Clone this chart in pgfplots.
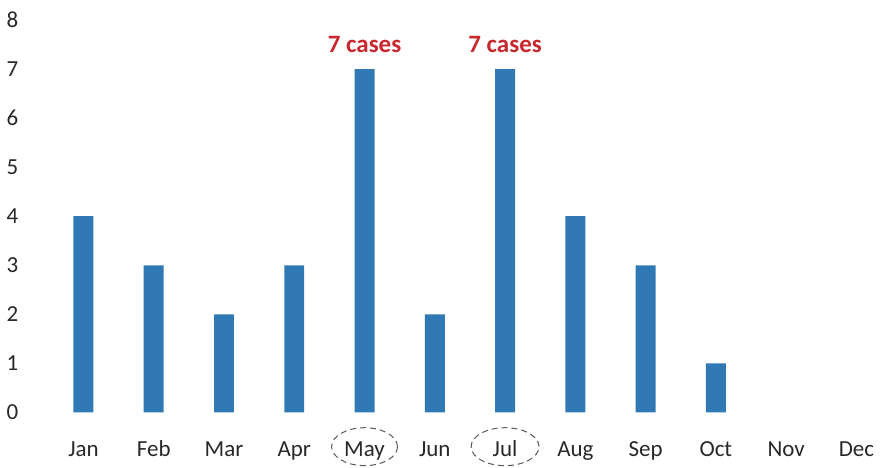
\documentclass[border=0pt]{standalone}
\usepackage{fontspec}
\setmainfont{Carlito}
\usepackage{pgfplots}
\pgfplotsset{compat=1.18}
\definecolor{barblue}{RGB}{48,121,180}
\definecolor{labred}{RGB}{200,40,45}
\definecolor{tickgray}{RGB}{40,40,40}
\begin{document}
\begin{tikzpicture}
\begin{axis}[
  scale only axis,
  width=417pt, height=206.5pt,
  xmin=-0.5, xmax=11.35,
  ymin=0, ymax=8.41,
  axis line style={draw=none},
  clip=false,
  ybar, bar width=10pt,
  xtick={0,...,11},
  xticklabels={Jan,Feb,Mar,Apr,May,Jun,Jul,Aug,Sep,Oct,Nov,Dec},
  ytick={0,...,8},
  /pgf/number format/assume math mode=true,
  tick style={draw=none},
  major tick length=0pt,
  ticklabel style={font=\fontsize{11.5}{13}\selectfont, text=tickgray},
  yticklabel style={xshift=-11.5pt},
  xticklabel style={yshift=-11pt, text height=1.6ex, text depth=0.45ex},
]
\addplot[fill=barblue, draw=none] coordinates {
  (0,4) (1,3) (2,2) (3,3) (4,7) (5,2) (6,7) (7,4) (8,3) (9,1)
};
\node[text=labred, font=\fontsize{12.5}{14}\selectfont\bfseries] at (axis cs:4,7.5) {7 cases};
\node[text=labred, font=\fontsize{12.5}{14}\selectfont\bfseries] at (axis cs:6,7.5) {7 cases};
\draw[densely dashed, gray!70!black, line width=0.5pt] (axis cs:4,-0.7) ellipse [x radius=16.5pt, y radius=9.5pt];
\draw[densely dashed, gray!70!black, line width=0.5pt] (axis cs:6,-0.7) ellipse [x radius=17pt, y radius=9.5pt];
\end{axis}
\end{tikzpicture}
\end{document}
